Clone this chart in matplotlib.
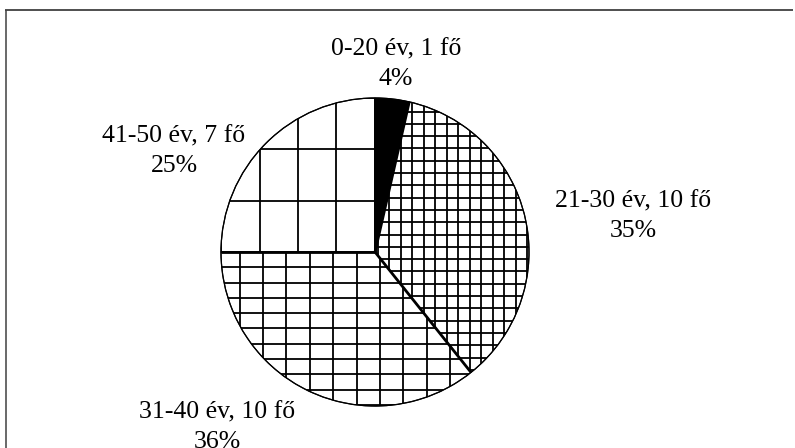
import matplotlib
matplotlib.use("Agg")
import matplotlib.pyplot as plt
import numpy as np

# ---- data ----
categories = ["0-20 év", "21-30 év", "31-40 év", "41-50 év"]
counts = [1, 10, 10, 7]
percents = [4, 35, 36, 25]

W, H = 795, 448
fig = plt.figure(figsize=(W / 100, H / 100), dpi=100)
ax = fig.add_axes([0, 0, 1, 1])

cx, cy_img, R = 375, 252, 154
cy = H - cy_img

wedges, _ = ax.pie(counts, startangle=90, counterclock=False,
                   center=(cx, cy), radius=R,
                   colors=["black", "white", "white", "white"],
                   wedgeprops=dict(edgecolor="black", linewidth=0.8),
                   frame=True)
ax.set_xlim(0, W)
ax.set_ylim(0, H)
ax.set_aspect("equal")
ax.axis("off")

# grid hatching (image-pixel spacing), clipped to each wedge
grid_specs = {
    1: dict(dx=11.5, x0=412.3, dy=12.3, y0=197.7),
    2: dict(dx=23.4, x0=380.0, dy=15.3, y0=252.0),
    3: dict(dx=38.3, x0=374.5, dy=51.5, y0=252.0),
}
for i, s in grid_specs.items():
    w = wedges[i]
    xs = np.arange(s["x0"] - 20 * s["dx"], s["x0"] + 20 * s["dx"], s["dx"])
    ys_img = np.arange(s["y0"] - 20 * s["dy"], s["y0"] + 20 * s["dy"], s["dy"])
    ys = H - ys_img
    vl = ax.vlines(xs, cy - R - 5, cy + R + 5, colors="black", linewidth=1.3, zorder=2)
    hl = ax.hlines(ys, cx - R - 5, cx + R + 5, colors="black", linewidth=1.3, zorder=2)
    vl.set_clip_path(w)
    hl.set_clip_path(w)

# thicker radial boundaries
theta = 90.0
bounds = [theta]
for c in counts:
    theta -= 360.0 * c / sum(counts)
    bounds.append(theta)
for a in bounds[1:]:
    t = np.deg2rad(a)
    ax.plot([cx, cx + R * np.cos(t)], [cy, cy + R * np.sin(t)],
            color="black", linewidth=2.0, solid_capstyle="butt", zorder=3)
# outer circle on top
circ = plt.Circle((cx, cy), R, fill=False, edgecolor="black", linewidth=0.9, zorder=4)
ax.add_patch(circ)

# labels
label_pos = [(396, 55), (633, 207), (217, 418), (174, 142)]
font = dict(family="Liberation Serif", size=18.5, color="black")
for cat, n, p, (lx, ly) in zip(categories, counts, percents, label_pos):
    ax.text(lx, H - ly, f"{cat}, {n} fő", ha="center", va="baseline", **font, zorder=5)
    ax.text(lx, H - ly - 30, f"{p}%", ha="center", va="baseline", **font, zorder=5)

# border lines
ax.plot([5, 793], [H - 9.5, H - 9.5], color="#404040", linewidth=1.3,
        solid_capstyle="butt", clip_on=False)
ax.plot([5.5, 5.5], [H - 9.5, 0], color="#404040", linewidth=1.1,
        solid_capstyle="butt", clip_on=False)

fig.savefig("out.png", dpi=100, facecolor="white")
